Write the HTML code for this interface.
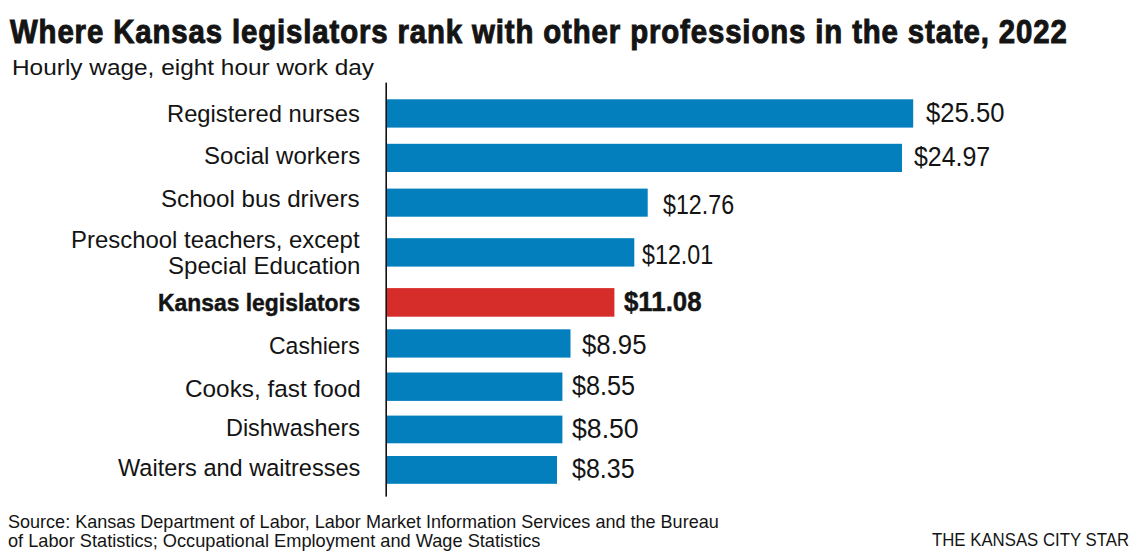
<!DOCTYPE html>
<html><head><meta charset="utf-8"><style>
html,body{margin:0;padding:0;background:#fff;width:1140px;height:558px;overflow:hidden}
body{position:relative;font-family:"Liberation Sans",sans-serif;color:#141414}
.t{position:absolute;white-space:nowrap;line-height:1;transform-origin:0 0}
.b{position:absolute}
</style></head><body>
<svg width="1140" height="558" style="position:absolute;left:0;top:0"><rect x="387" y="99.3" width="526.2" height="28.3" fill="#047fbe"/><rect x="387" y="143.8" width="515" height="28.2" fill="#047fbe"/><rect x="387" y="188.6" width="260.7" height="28.1" fill="#047fbe"/><rect x="387" y="238.2" width="247.3" height="28.4" fill="#047fbe"/><rect x="387" y="288.1" width="227.4" height="28.6" fill="#d62d2a"/><rect x="387" y="329.3" width="183.5" height="28.3" fill="#047fbe"/><rect x="387" y="372.5" width="175.4" height="28.4" fill="#047fbe"/><rect x="387" y="415.6" width="175.4" height="27.7" fill="#047fbe"/><rect x="387" y="456" width="170" height="27.8" fill="#047fbe"/><rect x="385.4" y="82.6" width="1.6" height="414" fill="#111"/></svg>
<div class="t" style="left:9.8px;top:15.2px;font-size:33.8px;font-weight:bold;letter-spacing:1.0px;-webkit-text-stroke:1.0px #141414;transform:scaleX(0.8693)">Where Kansas legislators rank with other professions in the state, 2022</div>
<div class="t" style="left:11.83px;top:57.3px;font-size:22.5px;transform:scaleX(1.0843)">Hourly wage, eight hour work day</div>
<div class="t" style="left:167.34px;top:101.9px;font-size:24.3px;transform:scaleX(0.9778)">Registered nurses</div>
<div class="t" style="left:203.81px;top:143.5px;font-size:24.3px;transform:scaleX(0.9885)">Social workers</div>
<div class="t" style="left:161.21px;top:187.2px;font-size:24.3px;transform:scaleX(0.9939)">School bus drivers</div>
<div class="t" style="left:70.53px;top:228.1px;font-size:24.3px;transform:scaleX(0.9845)">Preschool teachers, except</div>
<div class="t" style="left:168.01px;top:253.5px;font-size:24.3px;transform:scaleX(0.9896)">Special Education</div>
<div class="t" style="left:157.85px;top:291.4px;font-size:24.0px;font-weight:bold;-webkit-text-stroke:0.45px #141414;transform:scaleX(0.9533)">Kansas legislators</div>
<div class="t" style="left:269.05px;top:333.5px;font-size:24.3px;transform:scaleX(0.9468)">Cashiers</div>
<div class="t" style="left:184.7px;top:376.5px;font-size:24.3px;transform:scaleX(1.0017)">Cooks, fast food</div>
<div class="t" style="left:226.07px;top:416.0px;font-size:24.3px;transform:scaleX(0.9632)">Dishwashers</div>
<div class="t" style="left:117.9px;top:455.8px;font-size:24.3px;transform:scaleX(0.9683)">Waiters and waitresses</div>
<div class="t" style="left:926.3px;top:99.3px;font-size:27.1px;transform:scaleX(0.9463)">$25.50</div>
<div class="t" style="left:914.0px;top:143.2px;font-size:27.1px;transform:scaleX(0.9195)">$24.97</div>
<div class="t" style="left:662.8px;top:191.0px;font-size:27.1px;transform:scaleX(0.8585)">$12.76</div>
<div class="t" style="left:641.8px;top:241.2px;font-size:27.1px;transform:scaleX(0.8598)">$12.01</div>
<div class="t" style="left:624.2px;top:289.0px;font-size:26.8px;font-weight:bold;-webkit-text-stroke:0.45px #141414;transform:scaleX(0.9637)">$11.08</div>
<div class="t" style="left:582.0px;top:331.0px;font-size:27.1px;transform:scaleX(0.9507)">$8.95</div>
<div class="t" style="left:571.7px;top:372.0px;font-size:27.1px;transform:scaleX(0.9299)">$8.55</div>
<div class="t" style="left:571.7px;top:415.3px;font-size:27.1px;transform:scaleX(0.9836)">$8.50</div>
<div class="t" style="left:571.7px;top:455.4px;font-size:27.1px;transform:scaleX(0.9224)">$8.35</div>
<div class="t" style="left:8.02px;top:512.7px;font-size:18.4px;transform:scaleX(0.9806)">Source: Kansas Department of Labor, Labor Market Information Services and the Bureau</div>
<div class="t" style="left:8.01px;top:531.5px;font-size:18.4px;transform:scaleX(0.9897)">of Labor Statistics; Occupational Employment and Wage Statistics</div>
<div class="t" style="left:932.0px;top:530.3px;font-size:19.0px;transform:scaleX(0.8829)">THE KANSAS CITY STAR</div>
</body></html>
